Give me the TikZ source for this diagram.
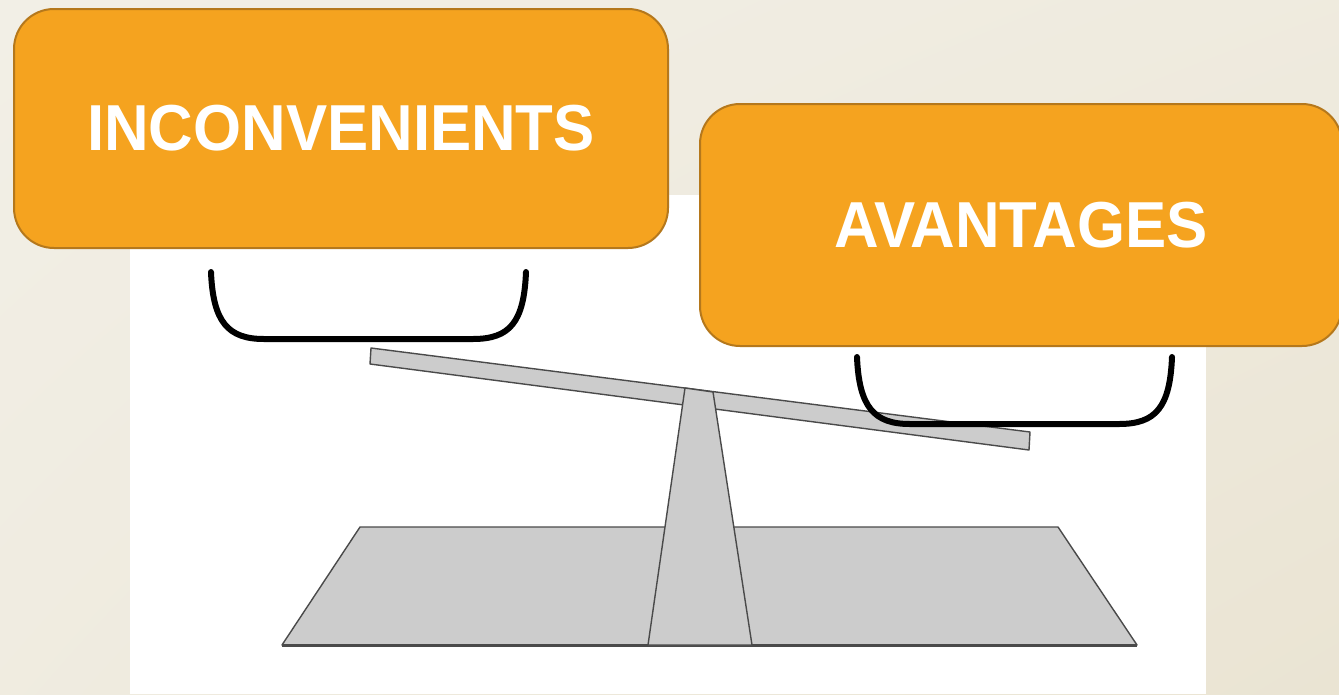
\documentclass[tikz,border=0pt]{standalone}
\usepackage{fontspec}
\usepackage{xcolor}
\usepackage{tikz}
\usetikzlibrary{shadings}
\newfontfamily\boxfont[FakeStretch=0.95]{Liberation Sans}

\definecolor{paper}{HTML}{F2EFE6}
\definecolor{paperdark}{HTML}{EAE4D3}
\definecolor{boxorange}{HTML}{F5A31F}
\definecolor{boxedge}{HTML}{B5781C}
\definecolor{woodgray}{HTML}{CCCCCC}
\definecolor{woodedge}{HTML}{4A4A4A}

\begin{document}
\begin{tikzpicture}[x=1pt, y=-1pt,
		label box/.style={draw=boxedge, line width=2pt, fill=boxorange, rounded corners=40pt,
			text=white, font=\boxfont\bfseries\fontsize{65}{65}\selectfont, inner sep=0pt},
		wood/.style={fill=woodgray, draw=woodedge, line width=1.4pt, line join=round},
		pan/.style={draw=black, line width=6pt, line cap=round}]
		\useasboundingbox (0,0) rectangle (1339,694);
		% background and picture frame
		\shade[upper left=paper, upper right=paper!60!paperdark, lower left=paper!70!paperdark, lower right=paperdark] (0,0) rectangle (1339,694);
		\fill[white] (130,195) rectangle (1206,694);
		% stand: foot plate, beam, post
		\draw[wood] (360,527) -- (1058,527) -- (1137,645) -- (282,645) -- cycle;
		\draw[woodedge, line width=3pt] (282,645) -- (1137,645);
		\draw[wood] (371,348) -- (1030,432) -- (1029,450) -- (370,364) -- cycle;
		\draw[wood] (685,388) -- (713,392) -- (752,645) -- (648,645) -- cycle;
		% pans
		\draw[pan] (211,272) .. controls (213,322) and (228,339) .. (264,339) -- (473,339) .. controls (510,339) and (524,322) .. (526,272);
		\draw[pan] (857,357) .. controls (859,407) and (874,424) .. (910,424) -- (1119,424) .. controls (1156,424) and (1170,407) .. (1172,357);
		% labels
		\node[label box, minimum width=654pt, minimum height=239pt] (cons) at (341,128.5) {INCONVENIENTS};
		\node[label box, minimum width=642pt, minimum height=242pt] (pros) at (1021,225) {AVANTAGES};
	\end{tikzpicture}
\end{document}
